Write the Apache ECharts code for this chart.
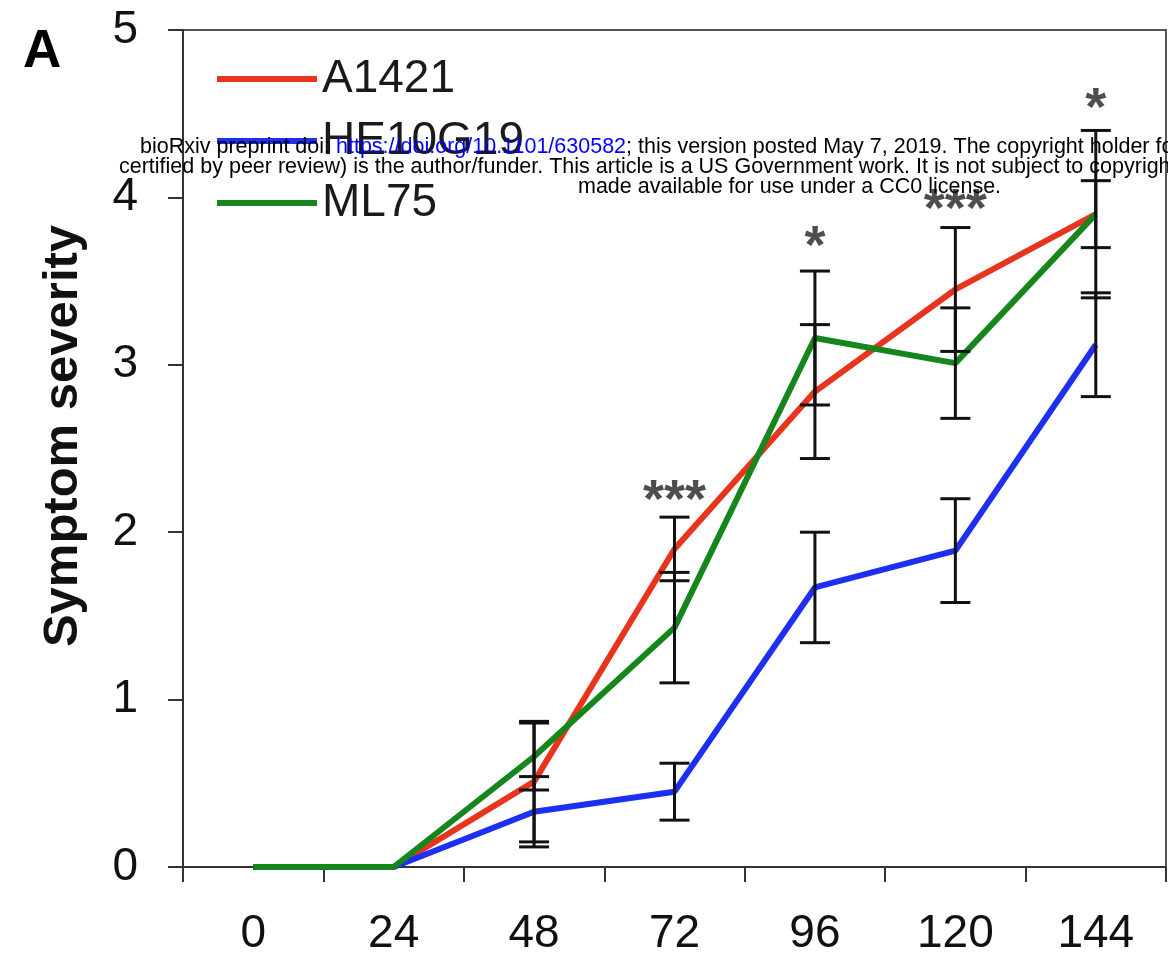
<!DOCTYPE html>
<html>
<head>
<meta charset="utf-8">
<script src="https://cdn.jsdelivr.net/npm/echarts@6/dist/echarts.min.js"></script>
<style>
  html, body { margin: 0; padding: 0; background: #fff; }
  #chart { width: 1168px; height: 959px; }
</style>
</head>
<body>
<div id="chart"></div>
<script>
// time points (h)
var hours = ['0', '24', '48', '72', '96', '120', '144'];

// mean symptom severity per strain
var a1421 = [0, 0, 0.51, 1.90, 2.84, 3.45, 3.90];
var he10g19 = [0, 0, 0.33, 0.45, 1.67, 1.89, 3.12];
var ml75 = [0, 0, 0.66, 1.43, 3.16, 3.01, 3.90];

// error (half length of bar)
var a1421Err = [0, 0, 0.36, 0.19, 0.40, 0.37, 0.50];
var he10g19Err = [0, 0, 0.21, 0.17, 0.33, 0.31, 0.31];
var ml75Err = [0, 0, 0.20, 0.33, 0.40, 0.33, 0.20];

// significance marks
var sigText = ['', '', '', '***', '*', '***', '*'];
var sigY = [0, 0, 0, 2.18, 3.70, 3.92, 4.52];

var FONT = 'Liberation Sans, Arial, Helvetica, sans-serif';
var WM = 21.5; // watermark font size

function errData(means, errs) {
  var out = [];
  for (var i = 0; i < means.length; i++) {
    if (errs[i] > 0) out.push([i, means[i] - errs[i], means[i] + errs[i]]);
  }
  return out;
}

var allErr = errData(a1421, a1421Err)
  .concat(errData(he10g19, he10g19Err))
  .concat(errData(ml75, ml75Err));

var sigData = [];
for (var i = 0; i < sigText.length; i++) {
  if (sigText[i]) sigData.push({ value: [i, sigY[i]], name: sigText[i] });
}

function renderErr(params, api) {
  var lo = api.coord([api.value(0), api.value(1)]);
  var hi = api.coord([api.value(0), api.value(2)]);
  var hw = 15;
  var st = { stroke: '#111', lineWidth: 3 };
  return {
    type: 'group',
    children: [
      { type: 'line', shape: { x1: lo[0], y1: lo[1], x2: hi[0], y2: hi[1] }, style: st },
      { type: 'line', shape: { x1: lo[0] - hw, y1: lo[1], x2: lo[0] + hw, y2: lo[1] }, style: st },
      { type: 'line', shape: { x1: hi[0] - hw, y1: hi[1], x2: hi[0] + hw, y2: hi[1] }, style: st }
    ]
  };
}

// watermark pieces on the first line are placed one after the other
var ctx = document.createElement('canvas').getContext('2d');
ctx.font = WM + 'px ' + FONT;
var part1 = 'bioRxiv preprint doi: ';
var part2 = 'https://doi.org/10.1101/630582';
var w1 = ctx.measureText(part1).width;
var w2 = ctx.measureText(part2).width;

function wmText(txt, x, y, color) {
  return {
    type: 'text', left: x, top: y, z: 100,
    style: { text: txt, fontFamily: FONT, fontSize: WM, fill: color || '#000' }
  };
}

var myChart = echarts.init(document.getElementById('chart'));
var option = {
  backgroundColor: '#fff',
  animation: false,
  title: {
    text: 'A',
    left: 18,
    top: 21,
    textStyle: { fontFamily: FONT, fontSize: 53, fontWeight: 'bold', color: '#000' }
  },
  legend: {
    orient: 'vertical',
    left: 212,
    top: 51,
    itemWidth: 100,
    itemHeight: 6,
    itemGap: 16,
    icon: 'rect',
    itemTextGap: 7,
    data: ['A1421', 'HE10G19', 'ML75'],
    textStyle: { fontFamily: FONT, fontSize: 46, color: '#1a1a1a', lineHeight: 46 }
  },
  grid: {
    left: 183, right: 2, top: 30, bottom: 92,
    show: true, borderColor: '#555', borderWidth: 2
  },
  xAxis: {
    type: 'category',
    data: hours,
    boundaryGap: true,
    axisLine: { lineStyle: { color: '#333', width: 2 } },
    axisTick: { show: true, length: 15, lineStyle: { color: '#333', width: 2 } },
    axisLabel: { fontFamily: FONT, fontSize: 46, color: '#111', margin: 44 }
  },
  yAxis: {
    type: 'value',
    min: 0, max: 5, interval: 1,
    splitLine: { show: false },
    axisLine: { show: true, lineStyle: { color: '#333', width: 2 } },
    axisTick: { show: true, length: 15, lineStyle: { color: '#333', width: 2 } },
    axisLabel: { fontFamily: FONT, fontSize: 46, color: '#111', margin: 45 }
  },
  series: [
    {
      name: 'A1421', type: 'line', data: a1421, symbol: 'none',
      lineStyle: { color: '#e8341c', width: 6 }, itemStyle: { color: '#e8341c' }, z: 2
    },
    {
      name: 'HE10G19', type: 'line', data: he10g19, symbol: 'none',
      lineStyle: { color: '#1d2ff0', width: 6 }, itemStyle: { color: '#1d2ff0' }, z: 2
    },
    {
      name: 'ML75', type: 'line', data: ml75, symbol: 'none',
      lineStyle: { color: '#15861c', width: 6 }, itemStyle: { color: '#15861c' }, z: 2
    },
    {
      type: 'custom', renderItem: renderErr, data: allErr, z: 5,
      encode: { x: 0, y: [1, 2] }, silent: true
    },
    {
      type: 'scatter', data: sigData, symbolSize: 0, z: 6, silent: true,
      label: {
        show: true, position: 'inside',
        formatter: function (p) { return p.name; },
        fontFamily: FONT, fontSize: 54, fontWeight: 'bold', color: '#222'
      }
    }
  ],
  graphic: [
    {
      // y axis title, sits a bit above the axis middle in the original
      type: 'text', x: 63, y: 436, rotation: Math.PI / 2, z: 50,
      style: {
        text: 'Symptom severity', fontFamily: FONT, fontSize: 49, fontWeight: 'bold',
        fill: '#111', align: 'center', verticalAlign: 'middle'
      }
    },
    wmText(part1, 140, 136),
    wmText(part2, 140 + w1, 136, '#0000ff'),
    wmText('; this version posted May 7, 2019. The copyright holder for this preprint (which was not', 140 + w1 + w2, 136),
    wmText('certified by peer review) is the author/funder. This article is a US Government work. It is not subject to copyright under 17 USC 105 and is also', 119, 156),
    wmText('made available for use under a CC0 license.', 578, 176)
  ]
};
myChart.setOption(option);
</script>
</body>
</html>
